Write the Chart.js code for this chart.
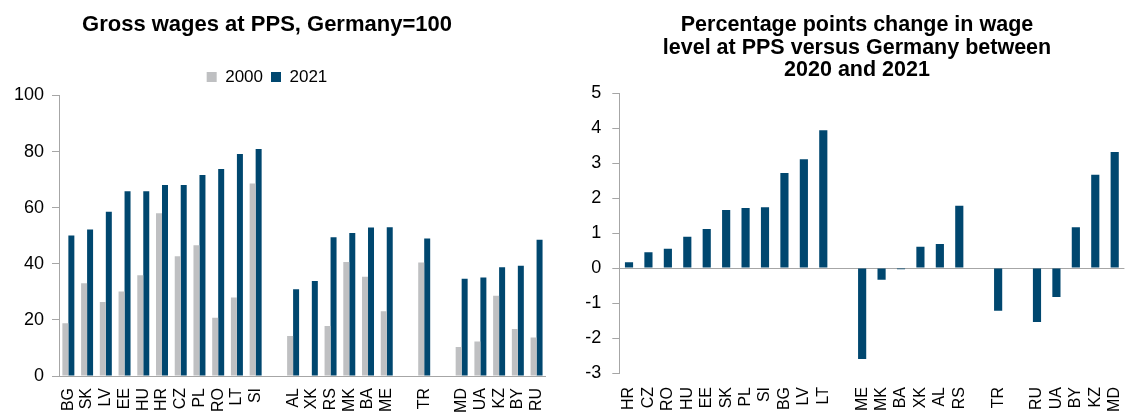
<!DOCTYPE html>
<html>
<head>
<meta charset="utf-8">
<script src="https://cdn.jsdelivr.net/npm/chart.js@4/dist/chart.umd.min.js"></script>
<style>
  html, body { margin: 0; padding: 0; background: #fff; }
  .wrap { position: relative; width: 1140px; height: 414px; overflow: hidden; }
  .box1 { position: absolute; left: -14px; top: 0; width: 574px; height: 414px; }
  .box2 { position: absolute; left: 579px; top: 0; width: 561px; height: 414px; }
</style>
</head>
<body>
<div class="wrap">
  <div class="box1"><canvas id="salarios"></canvas></div>
  <div class="box2"><canvas id="cambio"></canvas></div>
</div>
<script>
// ---- datos grafico 1 ('' = hueco entre grupos) ----
const paises1 = ['BG','SK','LV','EE','HU','HR','CZ','PL','RO','LT','SI','',
                 'AL','XK','RS','MK','BA','ME','','TR','','MD','UA','KZ','BY','RU'];
const valores2000 = [18.8,33.1,26.4,30.1,35.9,58.0,42.7,46.6,20.8,28.0,68.6,null,
                     14.3,null,17.8,40.6,35.4,23.1,null,40.5,null,10.3,12.3,28.6,16.8,13.7];
const valores2021 = [50.1,52.2,58.6,65.9,65.9,68.1,68.1,71.7,73.8,79.1,80.9,null,
                     30.9,33.9,49.5,51.0,52.9,53.0,null,49.0,null,34.7,35.1,38.8,39.3,48.6];
const ticks1 = [0, 20, 40, 60, 80, 100];

// ---- datos grafico 2 ----
const paises2 = ['HR','CZ','RO','HU','EE','SK','PL','SI','BG','LV','LT','',
                 'ME','MK','BA','XK','AL','RS','','TR','','RU','UA','BY','KZ','MD'];
const cambioPuntos = [0.17,0.45,0.55,0.90,1.12,1.66,1.72,1.74,2.72,3.11,3.94,null,
                      -2.60,-0.33,-0.03,0.61,0.69,1.78,null,-1.22,null,-1.54,-0.83,1.17,2.67,3.32];
const ticks2 = [-3, -2, -1, 0, 1, 2, 3, 4, 5];

const fuente = "'Liberation Sans', Arial, sans-serif";
const gris = '#BFC0C2';
const azul = '#00476F';
const lineaEje = '#A6A6A6';

Chart.defaults.font.family = fuente;
Chart.defaults.color = '#000';
Chart.defaults.animation = false;

// ================== GRÁFICO 1 ==================
new Chart(document.getElementById('salarios'), {
    type: 'bar',
    data: {
        labels: paises1,
        datasets: [
            { label: '2000', data: valores2000, backgroundColor: gris },
            { label: '2021', data: valores2021, backgroundColor: azul }
        ]
    },
    options: {
        responsive: true,
        maintainAspectRatio: false,
        layout: { padding: { left: 0, right: 12, top: 0, bottom: 0 } },
        datasets: { bar: { categoryPercentage: 0.64, barPercentage: 1.0 } },
        plugins: {
            title: {
                display: true,
                text: 'Gross wages at PPS, Germany=100',
                font: { size: 22, weight: 'bold', lineHeight: 1.2 },
                color: '#000',
                padding: { top: 11.3, bottom: 22.8 }
            },
            legend: {
                display: true,
                labels: {
                    boxWidth: 10, boxHeight: 10, padding: 8,
                    font: { size: 17 }, color: '#000'
                }
            },
            tooltip: { enabled: false }
        },
        scales: {
            x: {
                grid: { display: false },
                border: { display: true, color: lineaEje },
                ticks: { autoSkip: false, maxRotation: 90, minRotation: 90, padding: 4, font: { size: 16 } },
                afterFit: s => { s.height = 38; }
            },
            y: {
                min: 0, max: 100,
                afterBuildTicks: s => { s.ticks = ticks1.map(v => ({ value: v })); },
                grid: { drawOnChartArea: false, drawTicks: true, tickLength: 7, color: lineaEje },
                border: { display: true, color: lineaEje },
                ticks: { padding: 8, font: { size: 18 } },
                afterFit: s => { s.width = 73; }
            }
        }
    }
});

// ================== GRÁFICO 2 ==================
new Chart(document.getElementById('cambio'), {
    type: 'bar',
    data: {
        labels: paises2,
        datasets: [
            { label: 'cambio', data: cambioPuntos, backgroundColor: azul }
        ]
    },
    options: {
        responsive: true,
        maintainAspectRatio: false,
        layout: { padding: { left: 0, right: 5, top: 0, bottom: 0 } },
        datasets: { bar: { categoryPercentage: 1.0, barPercentage: 0.42 } },
        plugins: {
            title: {
                display: true,
                text: ['Percentage points change in wage', 'level at PPS versus Germany between', '2020 and 2021'],
                font: { size: 21.5, weight: 'bold', lineHeight: 1.06 },
                color: '#000',
                padding: { top: 13.6, bottom: 11.3 }
            },
            legend: { display: false },
            tooltip: { enabled: false }
        },
        scales: {
            x: {
                grid: { display: false },
                border: { display: false },
                ticks: { autoSkip: false, maxRotation: 90, minRotation: 90, padding: 6, font: { size: 16 } },
                afterFit: s => { s.height = 41; }
            },
            y: {
                min: -3, max: 5,
                afterBuildTicks: s => { s.ticks = ticks2.map(v => ({ value: v })); },
                grid: {
                    drawOnChartArea: true, drawTicks: true, tickLength: 7,
                    color: ctx => (ctx.tick && ctx.tick.value === 0) ? lineaEje : 'rgba(0,0,0,0)',
                    tickColor: lineaEje
                },
                border: { display: true, color: lineaEje },
                ticks: { padding: 11, font: { size: 18 } },
                afterFit: s => { s.width = 40.3; }
            }
        }
    }
});
</script>
</body>
</html>
